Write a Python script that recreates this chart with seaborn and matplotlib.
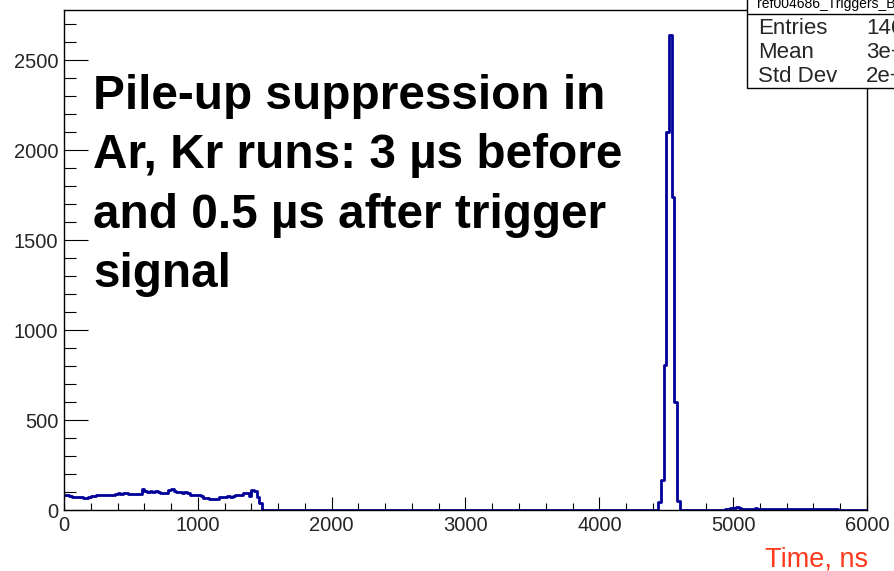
import numpy as np
import pandas as pd
import matplotlib
matplotlib.use("Agg")
import matplotlib.pyplot as plt
from matplotlib.patches import Rectangle
from matplotlib.ticker import MultipleLocator
import seaborn as sns

# ---------------- data (20 ns bins, 0..6000 ns) ----------------
bin_width = 20
x_range = (0, 6000)

low_start = 0
low_counts = [85, 83, 76, 74, 72, 75, 70, 65, 66, 72,
              78, 80, 82, 84, 83, 85, 82, 86, 84, 90,
              92, 91, 94, 92, 89, 90, 88, 91, 90, 118,
              104, 100, 103, 101, 104, 100, 97, 96, 95, 110,
              114, 106, 98, 100, 97, 99, 96, 86, 84, 82,
              83, 76, 66, 64, 60, 62, 60, 63, 70, 72,
              74, 76, 75, 78, 82, 84, 85, 95, 97, 78,
              110, 105, 72, 38, 0]

peak_start = 4440
peak_counts = [45, 165, 805, 2100, 2640, 1740, 600, 50]

tail_start = 4940
tail_counts = [3, 8, 12, 10, 14, 9, 6, 4, 5, 3, 6, 9, 7, 3, 5, 4, 6, 5, 4, 6,
               5, 3, 7, 5, 6, 4, 5, 7, 4, 5, 6, 4, 5, 5, 3, 6, 4, 5, 4, 3, 4, 3]

y_ticks = [0, 500, 1000, 1500, 2000, 2500]
x_ticks = [0, 1000, 2000, 3000, 4000, 5000, 6000]

note = "Pile-up suppression in\nAr, Kr runs: 3 µs before\nand 0.5 µs after trigger\nsignal"
x_title = "Time, ns"
stat_title = "ref004686_Triggers_BC1_Time"
stat_names = ["Entries", "Mean", "Std Dev"]
stat_values = ["14683", "3e+03", "2e+03"]

# ---------------- assemble histogram table ----------------
n_bins = int((x_range[1] - x_range[0]) / bin_width)
centers = x_range[0] + bin_width * (np.arange(n_bins) + 0.5)
counts = np.zeros(n_bins)
for start, vals in ((low_start, low_counts), (peak_start, peak_counts), (tail_start, tail_counts)):
    i0 = int((start - x_range[0]) / bin_width)
    counts[i0:i0 + len(vals)] = vals
df = pd.DataFrame({"time": centers, "count": counts})

# ---------------- plot ----------------
sns.set_theme(style="white")
plt.rcParams["font.family"] = ["Liberation Sans", "DejaVu Sans"]

fig = plt.figure(figsize=(8.95, 5.71), dpi=100)
ax = fig.add_axes([64 / 895, 61 / 571, 803 / 895, 500 / 571])

line_color = "#000099"
sns.histplot(data=df, x="time", weights="count", binwidth=bin_width, binrange=x_range,
             element="step", fill=False, color=line_color, linewidth=2.0, ax=ax)

ax.set_xlim(*x_range)
ax.set_ylim(0, 2780)
ax.set_xticks(x_ticks)
ax.set_yticks(y_ticks)
ax.set_xticklabels([str(v) for v in x_ticks])
ax.set_yticklabels([str(v) for v in y_ticks])
ax.xaxis.set_minor_locator(MultipleLocator(200))
ax.yaxis.set_minor_locator(MultipleLocator(100))
ax.tick_params(axis="x", which="major", direction="in", length=9.5, width=0.8,
               color="black", labelsize=14.5, pad=4, top=False, bottom=True)
ax.tick_params(axis="x", which="minor", direction="in", length=4.8, width=0.8,
               color="black", top=False, bottom=True)
ax.tick_params(axis="y", which="major", direction="in", length=17.5, width=0.8,
               color="black", labelsize=14.5, pad=4, right=False, left=True)
ax.tick_params(axis="y", which="minor", direction="in", length=8.8, width=0.8,
               color="black", right=False, left=True)
ax.set_xlabel("")
ax.set_ylabel("")
for s in ax.spines.values():
    s.set_visible(True)
    s.set_color("black")
    s.set_linewidth(1.0)

# x-axis title
fig.text(868 / 895, 1 - 566 / 571, x_title, ha="right", va="baseline",
         fontsize=19.5, color="#ff3a1a")

# annotation text
ax.text(93 / 895, 1 - 74 / 571, note, transform=fig.transFigure,
        ha="left", va="top", fontsize=34.4, fontweight="bold",
        color="black", linespacing=1.41)

# stats box
box = Rectangle((747 / 895, 1 - 88 / 571), 0.5, 0.5, transform=fig.transFigure,
                facecolor="white", edgecolor="black", linewidth=1.0, zorder=5)
fig.patches.append(box)
fig.lines.append(plt.Line2D([747 / 895, 1.0], [1 - 14 / 571, 1 - 14 / 571],
                            transform=fig.transFigure, color="black", linewidth=1.0, zorder=6))
fig.text(757 / 895, 1 - 4 / 571, stat_title, ha="left", va="center",
         fontsize=10, color="black", zorder=7)
for i, (n, v) in enumerate(zip(stat_names, stat_values)):
    yy = 1 - (28 + 24 * i) / 571
    fig.text(758 / 895, yy, n, ha="left", va="center", fontsize=16, zorder=7)
    fig.text(866 / 895, yy, v, ha="left", va="center", fontsize=16, zorder=7)

fig.savefig("out.png", dpi=100)
